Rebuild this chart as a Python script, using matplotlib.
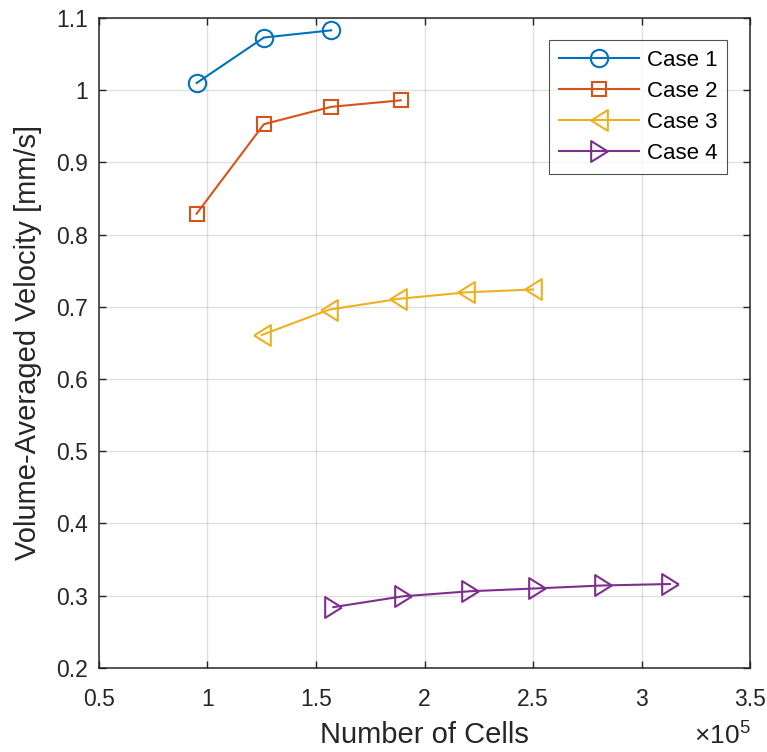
import numpy as np
import matplotlib.pyplot as plt

plt.rcParams['font.family'] = ['Liberation Sans', 'DejaVu Sans']
plt.rcParams['mathtext.fontset'] = 'custom'
plt.rcParams['mathtext.rm'] = 'Liberation Sans'

# number of cells and volume-averaged velocity [mm/s]
cells_1 = [95000, 126000, 157000]
vel_1 = [1.010, 1.073, 1.083]
cells_2 = [95000, 126000, 157000, 189000]
vel_2 = [0.829, 0.953, 0.977, 0.986]
cells_3 = [125000, 156000, 188000, 219000, 250000]
vel_3 = [0.661, 0.696, 0.711, 0.720, 0.724]
cells_4 = [158000, 190000, 221000, 252000, 282000, 313000]
vel_4 = [0.284, 0.299, 0.306, 0.310, 0.314, 0.316]

labels = ['Case 1', 'Case 2', 'Case 3', 'Case 4']
colors = ['#0072BD', '#D95319', '#EDB120', '#7E2F8E']
# MATLAB-style narrower triangles
tri_left = [(-0.8, 0), (0.8, 1), (0.8, -1), (-0.8, 0)]
tri_right = [(0.8, 0), (-0.8, 1), (-0.8, -1), (0.8, 0)]
markers = ['o', 's', tri_left, tri_right]
msizes = [12.5, 9.5, 15, 15]

fig = plt.figure(figsize=(7.67, 7.52), dpi=100)
ax = fig.add_axes([0.129, 0.112, 0.849, 0.864])

series = [(cells_1, vel_1), (cells_2, vel_2), (cells_3, vel_3), (cells_4, vel_4)]
for (x, y), lab, c, m, ms in zip(series, labels, colors, markers, msizes):
    ax.plot(np.array(x) / 1e5, y, color=c, marker=m, markersize=ms,
            markerfacecolor='none', markeredgewidth=1.5, linewidth=1.5, label=lab)

ax.set_xlim(0.5, 3.5)
ax.set_ylim(0.2, 1.1)
ax.set_xticks(np.arange(0.5, 3.51, 0.5))
ax.set_xticklabels(['0.5', '1', '1.5', '2', '2.5', '3', '3.5'])
ax.set_yticks(np.arange(0.2, 1.101, 0.1))
ax.set_yticklabels(['0.2', '0.3', '0.4', '0.5', '0.6', '0.7', '0.8', '0.9', '1', '1.1'])
ax.grid(True, color='#000000', alpha=0.12, linewidth=1)
ax.set_axisbelow(True)
ax.tick_params(direction='in', length=5, width=1, top=True, right=True,
               labelsize=16.5, colors='#262626')
ax.tick_params(axis='x', pad=14.5)
ax.tick_params(axis='y', pad=8)
for s in ax.spines.values():
    s.set_color('#262626')
    s.set_linewidth(1.1)

ax.set_xlabel('Number of Cells', fontsize=21, color='#262626', labelpad=7)
ax.set_ylabel('Volume-Averaged Velocity [mm/s]', fontsize=21, color='#262626', labelpad=10)
fig.text(0.978, 0.004, r'×10$^{5}$', ha='right', va='bottom', fontsize=19,
         color='#262626')

leg = ax.legend(loc='upper right', bbox_to_anchor=(0.9647, 0.966), borderaxespad=0,
                fontsize=16, handlelength=3.6, fancybox=False, edgecolor='#262626',
                borderpad=0.45, labelspacing=0.45, handletextpad=0.35)
leg.get_frame().set_linewidth(0.8)

fig.savefig('out.png', dpi=100)
